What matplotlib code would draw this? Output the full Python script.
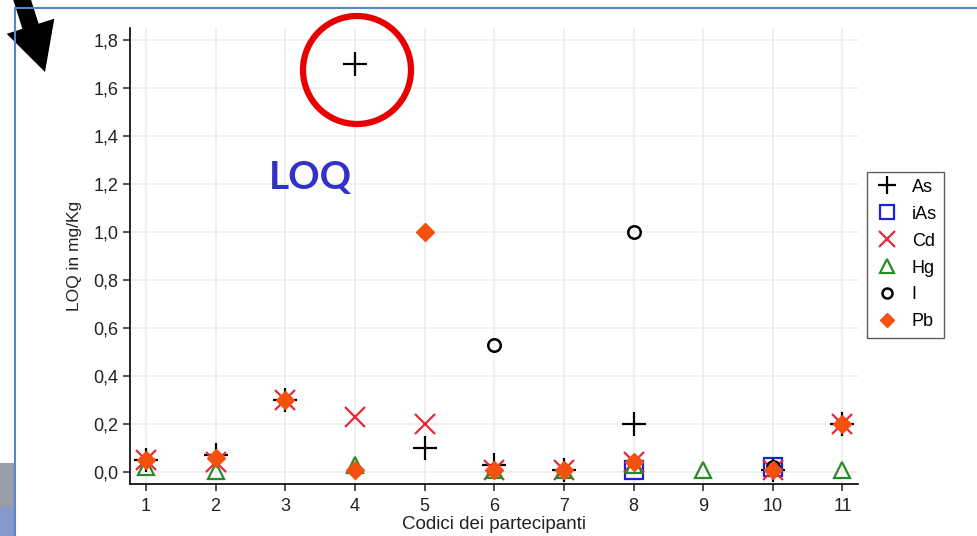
import matplotlib
matplotlib.use("Agg")
import matplotlib.pyplot as plt
from matplotlib.patches import Circle, Rectangle, FancyArrow
from matplotlib.lines import Line2D
from matplotlib.transforms import Affine2D
from matplotlib.ticker import FuncFormatter

plt.rcParams['font.family'] = ['Liberation Sans', 'DejaVu Sans']

# participant codes and LOQ values (mg/Kg)
as_x = [1, 2, 3, 4, 5, 6, 7, 8, 10, 11]
as_y = [0.05, 0.07, 0.30, 1.70, 0.10, 0.03, 0.01, 0.20, 0.01, 0.20]
ias_x = [8, 10]
ias_y = [0.01, 0.02]
cd_x = [1, 2, 3, 4, 5, 6, 7, 8, 10, 11]
cd_y = [0.05, 0.04, 0.30, 0.23, 0.20, 0.01, 0.01, 0.04, 0.01, 0.20]
hg_x = [1, 2, 4, 6, 7, 8, 9, 11]
hg_y = [0.02, 0.005, 0.03, 0.01, 0.01, 0.03, 0.01, 0.01]
i_x = [6, 8, 10]
i_y = [0.53, 1.00, 0.02]
pb_x = [1, 2, 3, 4, 5, 6, 7, 8, 10, 11]
pb_y = [0.05, 0.06, 0.30, 0.01, 1.00, 0.01, 0.01, 0.04, 0.01, 0.20]

x_ticks = list(range(1, 12))
y_ticks = [0.0, 0.2, 0.4, 0.6, 0.8, 1.0, 1.2, 1.4, 1.6, 1.8]

W, H = 977, 536
fig = plt.figure(figsize=(W / 100, H / 100), dpi=100)
# pixel coords with origin at top-left, for the slide decorations
px = Affine2D().scale(1 / W, -1 / H).translate(0, 1) + fig.transFigure

ax = fig.add_axes([0.133, 0.097, 0.745, 0.851])

ax.plot(as_x, as_y, ls='none', marker='+', ms=17, mew=1.6, color='black', label='As')
ax.plot(ias_x, ias_y, ls='none', marker='s', ms=13, mew=1.6, mfc='none', mec='#2020d8', label='iAs')
ax.plot(cd_x, cd_y, ls='none', marker='x', ms=14, mew=1.6, color='#e8283c', label='Cd')
ax.plot(hg_x, hg_y, ls='none', marker='^', ms=12, mew=1.6, mfc='none', mec='#2a8a2a', label='Hg')
ax.plot(i_x, i_y, ls='none', marker='o', ms=9, mew=1.8, mfc='none', mec='black', label='I')
ax.plot(pb_x, pb_y, ls='none', marker='D', ms=9.5, color='#f4510f', label='Pb')

ax.set_xlim(0.77, 11.22)
ax.set_ylim(-0.05, 1.85)
ax.set_xticks(x_ticks)
ax.set_yticks(y_ticks)
ax.yaxis.set_major_formatter(FuncFormatter(lambda v, p: f"{v:.1f}".replace('.', ',')))
ax.grid(True, color='#ececec', lw=1.2)
ax.set_axisbelow(True)
for s in ['top', 'right']:
    ax.spines[s].set_visible(False)
for s in ['left', 'bottom']:
    ax.spines[s].set_linewidth(1.2)
ax.tick_params(direction='out', length=5, width=1.1, labelsize=13, colors='#222222')
ax.tick_params(axis='x', pad=5)
ax.set_xlabel("Codici dei partecipanti", fontsize=13.5, labelpad=1, color='#222222')
ax.set_ylabel("LOQ in mg/Kg", fontsize=12.5, labelpad=8, color='#222222')

leg = ax.legend(loc='upper left', bbox_to_anchor=(1.012, 0.685), fontsize=13,
                frameon=True, fancybox=False, edgecolor='#333333',
                handletextpad=0.6, borderpad=0.4, labelspacing=0.55,
                handlelength=1.5, borderaxespad=0, markerscale=0.8)
leg.get_frame().set_linewidth(1.0)

# slide annotations
fig.patches.append(Circle((357, 70), radius=54, transform=px, fill=False, ec='#e80000', lw=4.5))
fig.text(310 / W, 1 - 177 / H, "LOQ", fontsize=28, fontweight='bold', color='#3232c8',
         family=['Lato', 'DejaVu Sans'], ha='center', va='center')

# slide frame, arrow and grey bar
fig.add_artist(Line2D([15, W], [8, 8], transform=px, color='#5a86d0', lw=1.5))
fig.add_artist(Line2D([15, 15], [8, H], transform=px, color='#5a86d0', lw=1.5))
fig.patches.append(Rectangle((0, 463), 14, 44, transform=px, color='#9a9ca6', lw=0))
fig.patches.append(Rectangle((0, 507), 14, 30, transform=px, color='#8898c8', lw=0))
fig.patches.append(FancyArrow(19, -10, 26, 82, width=17, head_width=50, head_length=48,
                              length_includes_head=True, transform=px, color='black', lw=0))

fig.savefig("out.png", dpi=100)
